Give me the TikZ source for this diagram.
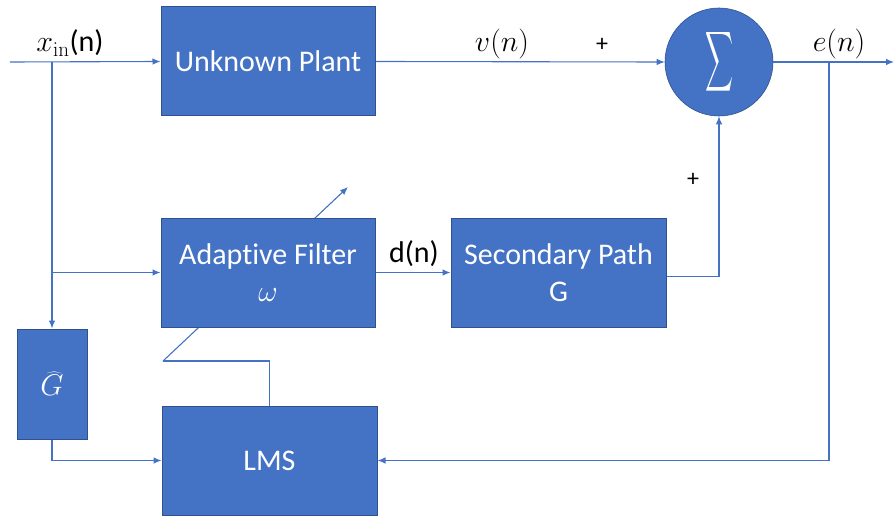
\documentclass[tikz,border=0pt]{standalone}
\usepackage{fix-cm}
\usepackage[no-math]{fontspec}
\setmainfont[Ligatures=NoCommon]{Carlito}
\usetikzlibrary{arrows.meta,calc}
\definecolor{blockfill}{HTML}{4472C4}
\definecolor{blockedge}{HTML}{2F528F}
\definecolor{wire}{HTML}{4472C4}
\pgfdeclarelayer{back}
\pgfsetlayers{back,main}
\tikzset{
  block/.style={draw=blockedge, line width=1pt, fill=blockfill, text=white,
    inner sep=0pt, align=center, font=\fontsize{30}{37}\selectfont},
  sumnode/.style={circle, draw=blockedge, line width=0.6pt, fill=blockfill,
    text=white, minimum size=108pt, inner sep=0pt},
  wireline/.style={draw=wire, line width=1.1pt},
  arr/.style={wireline, -{Latex[length=8pt,width=6.5pt]}},
  lbl/.style={font=\fontsize{30}{36}\selectfont, inner sep=0pt},
  sign/.style={font=\fontsize{24}{28}\selectfont, inner sep=0pt}
}
\begin{document}
\begin{tikzpicture}[x=1pt,y=-1pt]
\useasboundingbox (0,0) rectangle (894,516);

% blocks
\node[block, minimum width=214pt, minimum height=109pt] (plant) at (268,61.5) {Unknown Plant};
\node[block, minimum width=214pt, minimum height=109pt] (af) at (268,272.5) {Adaptive Filter\\$\omega$};
\node[block, minimum width=215pt, minimum height=109pt] (sp) at (558.5,272.5) {Secondary Path\\G};
\node[block, minimum width=215pt, minimum height=109pt] (lms) at (269.5,460.5) {LMS};
\node[block, minimum width=70pt, minimum height=110pt] (gh) at (52,384) {$\widehat{G}$};
\node[sumnode] (sum) at (719,62) {\resizebox{28pt}{44pt}{$\displaystyle\sum$}};

% free ends and branch points
\coordinate (in) at (10,62);
\coordinate (out) at (894,62);
\coordinate (split) at (52,62);
\coordinate (tap) at (829,62);
\coordinate (adjLow) at (163,361);
\coordinate (adjHigh) at (348,187);

% weight-adjustment arrow, passing behind the filter block
\begin{pgfonlayer}{back}
\draw[arr] (adjLow) -- (adjHigh);
\end{pgfonlayer}

% signal paths
\draw[arr] (in) -- (plant.west);
\draw[arr] (plant.east) -- (sum.west);
\draw[arr] (sum.east) -- (out);
\draw[arr] (split) -- (gh.north);
\draw[arr] (split |- af.west) -- (af.west);
\draw[arr] (af.east) -- (sp.east -| sp.west);
\draw[arr] ($(sp.east)+(0,4)$) -| (sum.south);
\draw[arr] (tap) |- (lms.east);
\draw[arr] (gh.south) |- (lms.west);
\draw[wireline] (lms.north) |- (adjLow);

% labels
\node[lbl, anchor=base] (xin) at (70,52) {$x_{\mathrm{in}}$(n)};
\node[lbl, anchor=base] (vn) at (502,52) {$v(n)$};
\node[lbl, anchor=base] (en) at (839,52) {$e(n)$};
\node[lbl] (dn) at (414,254) {d(n)};
\node[sign] (p1) at (602,45) {+};
\node[sign] (p2) at (693,180) {+};
\end{tikzpicture}
\end{document}
